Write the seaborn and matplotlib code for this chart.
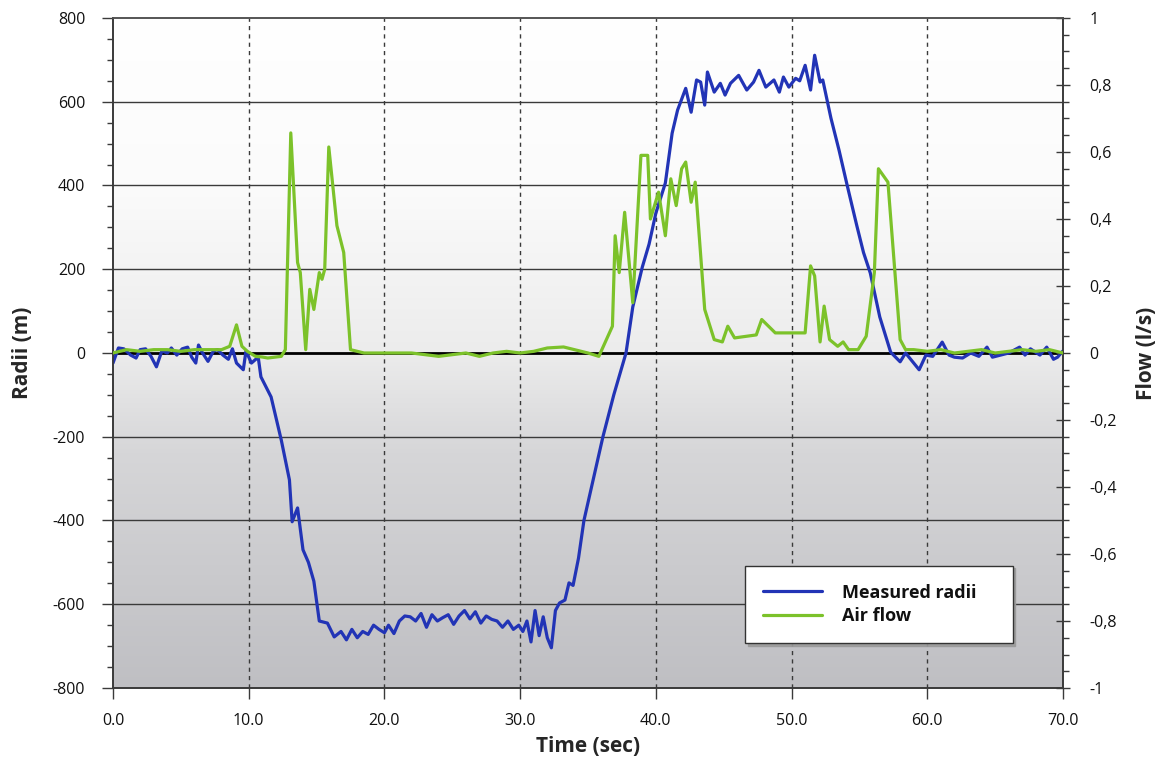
import numpy as np
import pandas as pd
import matplotlib
matplotlib.use("Agg")
import matplotlib.pyplot as plt
import seaborn as sns
from matplotlib.colors import LinearSegmentedColormap
from matplotlib.ticker import MultipleLocator

# ---------------- data ----------------
radii_time = [0.0, 0.4, 0.8, 1.3, 1.7, 2.0, 2.4, 2.8, 3.2, 3.6, 4.0, 4.3, 4.7, 5.1, 5.5,
              5.8, 6.1, 6.3, 6.6, 7.0, 7.4, 7.7, 8.1, 8.5, 8.8, 9.1, 9.6, 9.8, 10.2, 10.7,
              10.9, 11.65, 12.4, 13.0, 13.2, 13.6, 14.0, 14.4, 14.8, 15.2, 15.8, 16.3, 16.8,
              17.2, 17.6, 18.0, 18.4, 18.8, 19.2, 19.6, 20.0, 20.3, 20.7, 21.1, 21.5, 21.9,
              22.3, 22.7, 23.1, 23.5, 23.9, 24.3, 24.7, 25.1, 25.5, 25.9, 26.3, 26.7, 27.1,
              27.5, 27.9, 28.3, 28.7, 29.1, 29.5, 29.9, 30.2, 30.5, 30.8, 31.1, 31.4, 31.7,
              32.0, 32.3, 32.6, 32.9, 33.3, 33.6, 33.9, 34.3, 34.7, 35.4, 36.1, 36.9, 37.5,
              37.8, 38.3, 39.0, 39.5, 40.0, 40.7, 41.2, 41.6, 42.2, 42.6, 43.0, 43.3, 43.6,
              43.8, 44.3, 44.75, 45.1, 45.5, 46.1, 46.7, 47.2, 47.6, 48.1, 48.7, 49.1, 49.4,
              49.8, 50.3, 50.6, 51.0, 51.4, 51.7, 52.1, 52.3, 52.9, 53.5, 54.1, 54.8, 55.3,
              55.8, 56.5, 57.3, 58.0, 58.4, 58.9, 59.4, 59.9, 60.4, 61.1, 61.6, 62.0, 62.6,
              63.2, 63.8, 64.4, 64.8, 65.4, 66.0, 66.8, 67.2, 67.6, 68.3, 68.8, 69.3, 69.6, 70.0]
radii_values = [-24, 12, 10, -5, -12, 8, 10, -8, -33, 5, 0, 12, -5, 10, 14,
                -10, -24, 19, 0, -20, 5, 8, -5, -15, 10, -24, -40, 5, -24, -10,
                -57, -105, -208, -303, -403, -370, -470, -500, -545, -640, -645, -678, -665,
                -685, -660, -680, -665, -672, -650, -660, -668, -650, -670, -640, -628, -630,
                -640, -622, -655, -625, -640, -632, -625, -648, -628, -615, -635, -618, -645,
                -628, -636, -640, -655, -640, -660, -650, -665, -640, -690, -615, -675, -630,
                -680, -704, -615, -597, -590, -549, -555, -490, -400, -300, -200, -100, -33,
                0, 110, 205, 260, 334, 406, 525, 580, 632, 575, 652, 647, 592,
                671, 623, 644, 616, 644, 663, 628, 647, 675, 635, 652, 623, 659,
                635, 656, 650, 687, 628, 711, 647, 652, 561, 484, 400, 305, 240,
                191, 86, 2, -21, 0, -20, -40, -5, -8, 26, -5, -10, -12,
                0, -8, 14, -10, -5, 0, 14, -5, 10, -5, 14, -15, -10, 5]

flow_time = [0, 1, 2, 3, 4, 5, 6, 7, 8, 8.6, 9.1, 9.5, 9.9, 10.5, 11.0, 11.4, 12.4, 12.7,
             13.1, 13.6, 13.8, 14.2, 14.5, 14.8, 15.2, 15.4, 15.6, 15.9, 16.5, 17.0, 17.5,
             18.5, 20, 21, 22, 23, 24, 25, 26, 27, 28, 29, 30, 31, 32, 33.2, 34, 35, 35.8,
             36.8, 37.0, 37.3, 37.7, 38.3, 38.9, 39.4, 39.6, 40.2, 40.7, 41.1, 41.5, 41.9,
             42.2, 42.6, 42.9, 43.6, 44.3, 44.9, 45.3, 45.8, 47.4, 47.8, 48.3, 48.8, 51.0,
             51.4, 51.7, 52.1, 52.4, 52.8, 53.1, 53.4, 53.8, 54.2, 54.9, 55.5, 56.1, 56.4,
             57.1, 58.0, 58.4, 59, 60, 61, 62, 63, 64, 65, 66, 67, 68, 69, 70]
flow_values = [0.0, 0.01, 0.005, 0.01, 0.01, 0.005, 0.01, 0.01, 0.01, 0.02, 0.084, 0.02,
               0.005, -0.01, -0.012, -0.015, -0.01, 0.01, 0.657, 0.27, 0.24, 0.01, 0.19,
               0.13, 0.24, 0.22, 0.25, 0.615, 0.38, 0.30, 0.01, 0.0, 0.0, 0.0, 0.0, -0.005,
               -0.01, -0.005, 0.0, -0.01, 0.0, 0.005, 0.0, 0.005, 0.015, 0.018, 0.01, 0.0,
               -0.01, 0.08, 0.35, 0.24, 0.42, 0.15, 0.59, 0.59, 0.40, 0.48, 0.35, 0.52, 0.44,
               0.55, 0.57, 0.45, 0.51, 0.13, 0.04, 0.033, 0.08, 0.045, 0.054, 0.10, 0.08,
               0.06, 0.06, 0.26, 0.23, 0.033, 0.14, 0.04, 0.03, 0.02, 0.033, 0.01, 0.01,
               0.05, 0.24, 0.55, 0.51, 0.04, 0.01, 0.01, 0.005, 0.01, 0.0, 0.005, 0.01, 0.0,
               0.005, 0.01, 0.005, 0.01, 0.0]

x_ticks = [0, 10, 20, 30, 40, 50, 60, 70]
x_labels = ["0.0", "10.0", "20.0", "30.0", "40.0", "50.0", "60.0", "70.0"]
left_ticks = [-800, -600, -400, -200, 0, 200, 400, 600, 800]
right_ticks = [-1, -0.8, -0.6, -0.4, -0.2, 0, 0.2, 0.4, 0.6, 0.8, 1]
right_labels = ["-1", "-0,8", "-0,6", "-0,4", "-0,2", "0", "0,2", "0,4", "0,6", "0,8", "1"]

BLUE = "#2234b6"
GREEN = "#7cc22a"
GRID = "#3a3a3a"

sns.set_style("ticks")
plt.rcParams["font.family"] = ["Open Sans", "DejaVu Sans"]
plt.rcParams["text.color"] = "#111111"

fig = plt.figure(figsize=(11.61, 7.67), dpi=100)
ax = fig.add_axes([113 / 1161, 1 - 688 / 767, 950 / 1161, 670 / 767])
ax2 = ax.twinx()

# gradient background (white top -> grey bottom)
cmap = LinearSegmentedColormap.from_list(
    "bg", [(0.0, "#bfbfc3"), (0.35, "#d6d6d8"), (0.5, "#ececec"), (0.75, "#fbfbfb"), (1.0, "#ffffff")])
grad = np.linspace(0, 1, 256).reshape(-1, 1)
ax.imshow(grad, extent=[0, 70, -800, 800], origin="lower", aspect="auto", cmap=cmap, zorder=0)

# grid
for v in left_ticks[1:-1]:
    if v == 0:
        continue
    ax.axhline(v, color=GRID, lw=1.0, zorder=1)
for v in x_ticks[1:-1]:
    ax.axvline(v, color=GRID, lw=1.0, ls=(0, (3, 3)), zorder=1)
ax.axhline(0, color="black", lw=2.0, zorder=2)

df_r = pd.DataFrame({"time": radii_time, "radii": radii_values})
df_f = pd.DataFrame({"time": flow_time, "flow": flow_values})
sns.lineplot(data=df_r, x="time", y="radii", ax=ax, color=BLUE, lw=2.3, zorder=4,
             label="Measured radii", legend=False)
sns.lineplot(data=df_f, x="time", y="flow", ax=ax2, color=GREEN, lw=2.3, zorder=3,
             label="Air flow", legend=False)

ax.set_xlim(0, 70)
ax.set_ylim(-800, 800)
ax2.set_ylim(-1, 1)
ax2.patch.set_visible(False)
ax.set_zorder(0)
ax2.set_zorder(1)

ax.set_xticks(x_ticks)
ax.set_xticklabels(x_labels)
ax.set_yticks(left_ticks)
ax.set_yticklabels([str(v) for v in left_ticks])
ax.yaxis.set_minor_locator(MultipleLocator(50))
ax2.set_yticks(right_ticks)
ax2.set_yticklabels(right_labels)
ax2.yaxis.set_minor_locator(MultipleLocator(0.05))

ax.tick_params(axis="x", direction="out", length=8, width=1, pad=10, labelsize=11.5, colors=GRID,
               labelcolor="#111111")
ax.tick_params(axis="y", which="major", direction="out", length=8, width=1, pad=12, labelsize=11.5,
               colors=GRID, labelcolor="#111111")
ax.tick_params(axis="y", which="minor", direction="out", length=4, width=1, colors=GRID)
ax2.tick_params(axis="y", which="major", direction="inout", length=10, width=1, pad=14,
                labelsize=11.5, colors=GRID, labelcolor="#111111")
ax2.tick_params(axis="y", which="minor", direction="out", length=4, width=1, colors=GRID)

for a in (ax, ax2):
    for s in a.spines.values():
        s.set_color(GRID)
        s.set_linewidth(1.2)
    a.spines["top"].set_color("#555555")

ax.set_xlabel("Time (sec)", fontsize=15, fontweight="bold", labelpad=5)
ax.set_ylabel("Radii (m)", fontsize=15, fontweight="bold", labelpad=14)
ax2.set_ylabel("Flow (l/s)", fontsize=15, fontweight="bold", rotation=90, labelpad=14)

h1, l1 = ax.get_legend_handles_labels()
h2, l2 = ax2.get_legend_handles_labels()
leg = ax2.legend(h1 + h2, l1 + l2, loc="lower left",
                 bbox_to_anchor=(0.665, 0.067, 0.282, 0.121), mode="expand",
                 borderaxespad=0.0,
                 fancybox=False, shadow={"color": "#9a9a9a", "alpha": 0.9},
                 edgecolor="#333333", framealpha=1, borderpad=1.0,
                 prop={"size": 13, "weight": "bold"}, handlelength=3.3, handletextpad=1.1,
                 labelspacing=0.3)
leg.get_frame().set_linewidth(1.0)

fig.savefig("out.png", dpi=100, facecolor="white")
